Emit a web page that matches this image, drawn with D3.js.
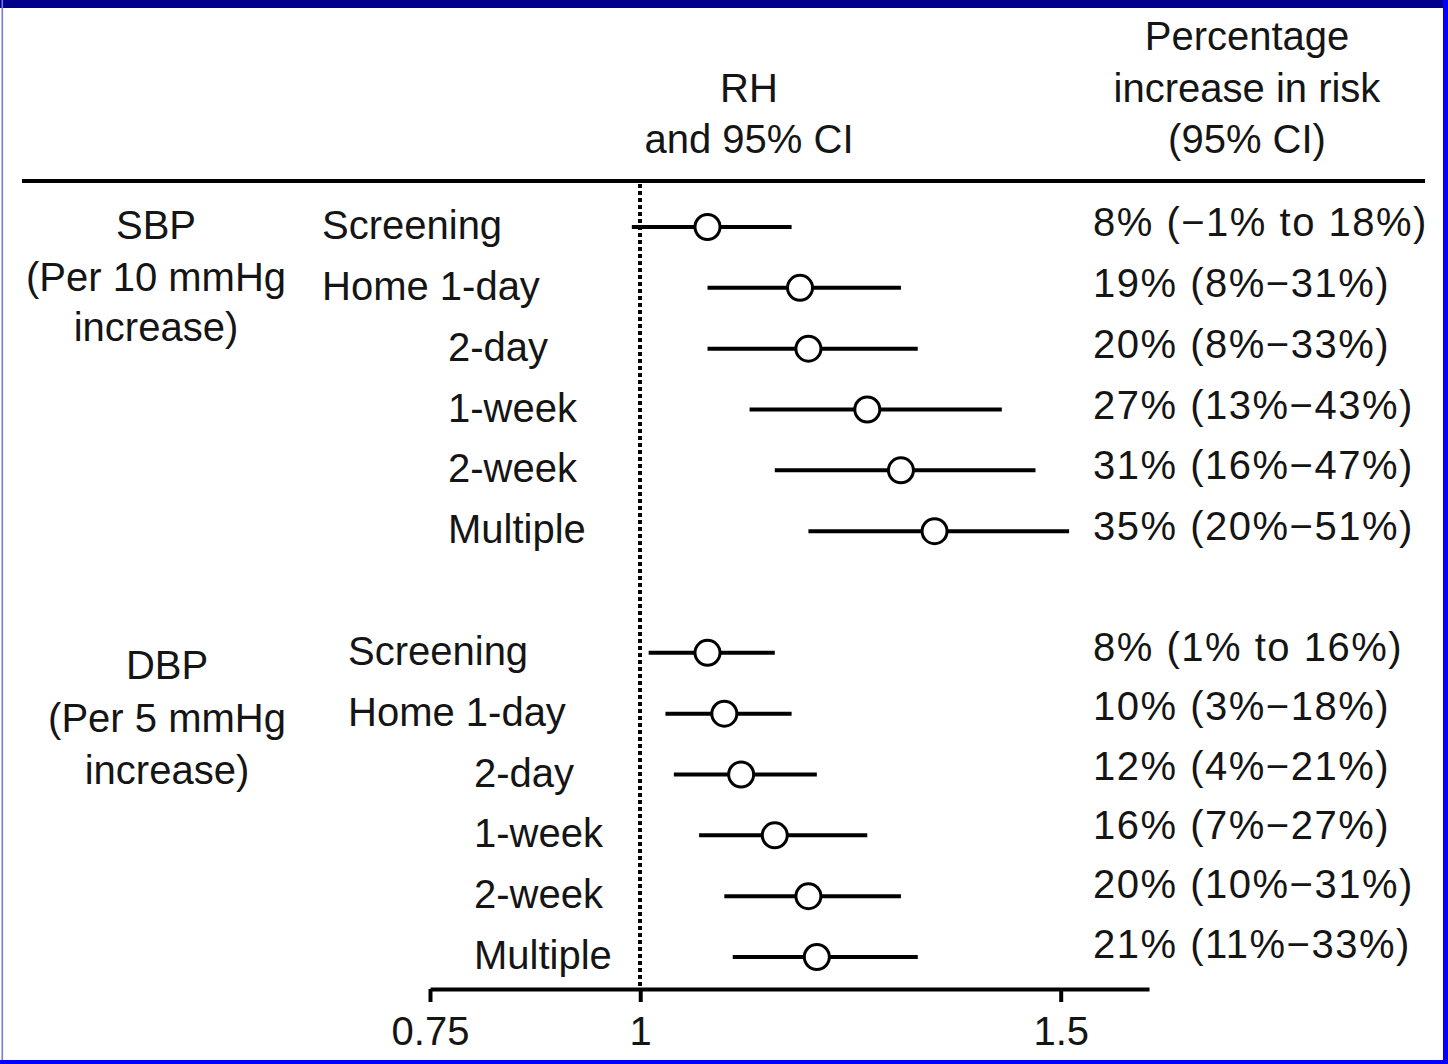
<!DOCTYPE html>
<html>
<head>
<meta charset="utf-8">
<script src="https://cdn.jsdelivr.net/npm/d3@7"></script>
<style>
  html, body { margin: 0; padding: 0; background: #fff; }
  svg { display: block; }
  text { font-family: "Liberation Sans", Arial, Helvetica, sans-serif; fill: #151515; }
</style>
</head>
<body>
<script>
// ---------------- data ----------------
const groupNames = ["SBP", "DBP"];
const groupSubtitles = [["(Per 10 mmHg", "increase)"], ["(Per 5 mmHg", "increase)"]];
const rowLabels = ["Screening", "Home 1-day", "2-day", "1-week", "2-week", "Multiple"];

const sbpEst  = [1.08, 1.19, 1.20, 1.27, 1.31, 1.35];
const sbpLow  = [0.99, 1.08, 1.08, 1.13, 1.16, 1.20];
const sbpHigh = [1.18, 1.31, 1.33, 1.43, 1.47, 1.51];
const sbpText = ["8% (\u22121% to 18%)", "19% (8%\u221231%)", "20% (8%\u221233%)",
                 "27% (13%\u221243%)", "31% (16%\u221247%)", "35% (20%\u221251%)"];

const dbpEst  = [1.08, 1.10, 1.12, 1.16, 1.20, 1.21];
const dbpLow  = [1.01, 1.03, 1.04, 1.07, 1.10, 1.11];
const dbpHigh = [1.16, 1.18, 1.21, 1.27, 1.31, 1.33];
const dbpText = ["8% (1% to 16%)", "10% (3%\u221218%)", "12% (4%\u221221%)",
                 "16% (7%\u221227%)", "20% (10%\u221231%)", "21% (11%\u221233%)"];

const tickValues = [0.75, 1, 1.5];
const tickLabels = ["0.75", "1", "1.5"];
const refValue = 1;

// ---------------- build rows ----------------
const rows = [];
[[sbpEst, sbpLow, sbpHigh, sbpText], [dbpEst, dbpLow, dbpHigh, dbpText]].forEach((g, gi) => {
  g[0].forEach((est, i) => {
    rows.push({group: gi, i, label: rowLabels[i], est, low: g[1][i], high: g[2][i], text: g[3][i],
               slot: gi * 7 + i});
  });
});

// ---------------- layout ----------------
const W = 1448, H = 1064;
const FS = 40;
const svg = d3.select("body").append("svg").attr("width", W).attr("height", H);
svg.append("rect").attr("width", W).attr("height", H).attr("fill", "#fff");

const x = d3.scaleLinear().domain([0.75, 1.605]).range([430, 1149]);
const y = d3.scaleLinear().domain([0, 12]).range([227, 957]);
const axisY = 989;
const headerY = 181;

// header text
const header = svg.append("g");
[["RH", 88], ["and 95% CI", 139]].forEach(([t, yy]) =>
  header.append("text").attr("x", 749).attr("y", yy).attr("text-anchor", "middle")
    .attr("dominant-baseline", "central").attr("font-size", FS).text(t));
[["Percentage", 36], ["increase in risk", 88], ["(95% CI)", 139]].forEach(([t, yy]) =>
  header.append("text").attr("x", 1247).attr("y", yy).attr("text-anchor", "middle")
    .attr("dominant-baseline", "central").attr("font-size", FS).text(t));

// header rule
svg.append("line").attr("x1", 22).attr("x2", 1425).attr("y1", headerY).attr("y2", headerY)
  .attr("stroke", "#000").attr("stroke-width", 4);

// reference dotted line
svg.append("line").attr("x1", Math.round(x(refValue))).attr("x2", Math.round(x(refValue)))
  .attr("y1", headerY + 3).attr("y2", axisY)
  .attr("stroke", "#000").attr("stroke-width", 4).attr("stroke-dasharray", "4,3");

// group labels
const groupCenters = [156, 167];
const groupLineY = [[225, 277, 327], [665, 718, 770]];
groupNames.forEach((name, gi) => {
  const lines = [name].concat(groupSubtitles[gi]);
  lines.forEach((t, li) =>
    svg.append("text").attr("x", groupCenters[gi]).attr("y", groupLineY[gi][li])
      .attr("text-anchor", "middle").attr("dominant-baseline", "central")
      .attr("font-size", FS).text(t));
});

// row labels
const labelX = [[322, 448], [348, 474]];
svg.append("g").selectAll("text").data(rows).join("text")
  .attr("x", d => labelX[d.group][d.i < 2 ? 0 : 1])
  .attr("y", d => y(d.slot) - 2)
  .attr("dominant-baseline", "central")
  .attr("font-size", FS)
  .text(d => d.label);

// CI whiskers
svg.append("g").selectAll("line").data(rows).join("line")
  .attr("x1", d => x(d.low)).attr("x2", d => x(d.high))
  .attr("y1", d => y(d.slot)).attr("y2", d => y(d.slot))
  .attr("stroke", "#000").attr("stroke-width", 4);

// point estimates
svg.append("g").selectAll("circle").data(rows).join("circle")
  .attr("cx", d => x(d.est)).attr("cy", d => y(d.slot)).attr("r", 12.5)
  .attr("fill", "#fff").attr("stroke", "#000").attr("stroke-width", 3);

// right-hand text
svg.append("g").selectAll("text").data(rows).join("text")
  .attr("x", 1093)
  .attr("y", d => y(d.slot) - (d.group === 0 ? 5 : 6 + d.i * 1.5))
  .attr("dominant-baseline", "central")
  .attr("font-size", FS)
  .attr("letter-spacing", 1.5)
  .text(d => d.text);

// x axis
const axis = d3.axisBottom(x).tickValues(tickValues)
  .tickFormat((d, i) => tickLabels[i]).tickSizeInner(13).tickSizeOuter(0).tickPadding(15);
const ax = svg.append("g").attr("transform", `translate(0,${axisY})`).call(axis);
ax.select(".domain").attr("stroke", "#000").attr("stroke-width", 4);
ax.selectAll(".tick line").attr("stroke", "#000").attr("stroke-width", 4);
ax.selectAll(".tick text").attr("font-size", FS).attr("fill", "#151515")
  .attr("font-family", "Liberation Sans, Arial, sans-serif");

// frame
svg.append("rect").attr("x", 0).attr("y", 0).attr("width", W).attr("height", 8).attr("fill", "#00008b");
svg.append("rect").attr("x", 1.5).attr("y", 0).attr("width", 1.6).attr("height", H).attr("fill", "#7b7bd6");
svg.append("rect").attr("x", 1443).attr("y", 0).attr("width", 5).attr("height", H).attr("fill", "#0000ff");
svg.append("rect").attr("x", 0).attr("y", 1060).attr("width", W).attr("height", 4).attr("fill", "#0000ff");
</script>
</body>
</html>
